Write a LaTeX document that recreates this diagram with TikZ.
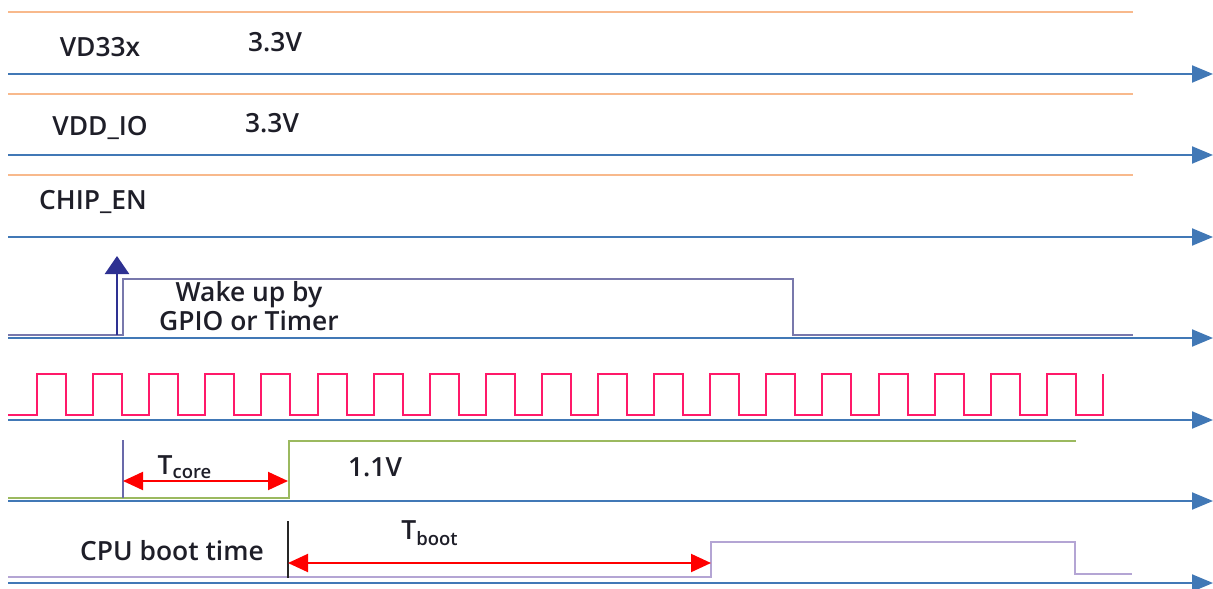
\documentclass[tikz,border=0pt]{standalone}
\usepackage{fontspec}
\setmainfont{Open Sans}[UprightFont=* Semibold]
\usetikzlibrary{arrows.meta,positioning,calc}
\definecolor{axisblue}{RGB}{65,120,182}
\definecolor{orangeln}{RGB}{248,185,140}
\definecolor{wakeln}{RGB}{120,120,172}
\definecolor{wakearr}{RGB}{46,49,146}
\definecolor{clkln}{RGB}{255,25,105}
\definecolor{coreln}{RGB}{155,185,95}
\definecolor{bootln}{RGB}{180,165,212}
\definecolor{markln}{RGB}{105,105,170}
\definecolor{txt}{RGB}{30,30,40}

\begin{document}
\begin{tikzpicture}[
  x=0.5pt, y=-0.5pt,
  font=\fontsize{13.2pt}{14.6pt}\selectfont,
  axis/.style={draw=axisblue, line width=1pt, -{Triangle[length=10.5pt,width=8.5pt]}},
  rail/.style={draw=orangeln, line width=0.8pt},
  sig/.style={line width=1pt},
  span/.style={draw=red, line width=1pt, {Triangle[length=10pt,width=9pt]}-{Triangle[length=10pt,width=9pt]}},
  lbl/.style={inner sep=0pt, align=center, text=txt}]
\useasboundingbox (0,0) rectangle (1213,588);

% time axes, one per signal
\foreach \y [count=\i] in {74,155,237,338,420,501,583} {
  \coordinate (ax\i) at (8,\y);
  \coordinate (tip\i) at (1213,\y);
  \draw[axis] (ax\i) -- (tip\i);
}
% supply rails
\foreach \y in {12,94,175}
  \draw[rail] (8,\y) -- (1133,\y);

% labels
\node[lbl] (vd33) at (100,47) {VD33x};
\node[lbl] (vd33v) at (275,42) {3.3V};
\node[lbl] (vddio) at (100,128) {VDD\_IO};
\node[lbl] (vddiov) at (272,123) {3.3V};
\node[lbl] (chipen) at (93,202) {CHIP\_EN};

% wake up pulse
\draw[sig, draw=wakeln] (8,335) -- (123,335) -- (123,279) -- (793,279)
  -- (793,335) -- (1133,335);
\coordinate (wk0) at (117,335);
\coordinate (wk1) at (117,256);
\draw[draw=wakearr, line width=1.2pt, -{Triangle[length=9pt,width=12pt]}] (wk0) -- (wk1);
\node[lbl] (wake) at (249,306) {Wake up by\\GPIO or Timer};

% clock
\draw[sig, draw=clkln] (8,415)
  foreach \k in {0,...,18} {
    -- ({37+56.1*\k},415) -- ({37+56.1*\k},374)
    -- ({66+56.1*\k},374) -- ({66+56.1*\k},415) }
  -- (1103,415) -- (1103,374);

% core supply
\draw[sig, draw=coreln] (8,498) -- (289,498) -- (289,441) -- (1076,441);
\coordinate (tc0) at (123,481);
\coordinate (tc1) at (288,481);
\draw[draw=markln, line width=0.9pt] (123,440) -- (123,498);
\draw[span] (tc0) -- (tc1);
\node[lbl] (tcore) at (185,467) {T\textsubscript{core}};
\node[lbl] (core11) at (375,467) {1.1V};

% cpu boot
\draw[sig, draw=bootln] (8,577) -- (711,577) -- (711,542) -- (1075,542)
  -- (1075,574) -- (1132,574);
\draw[draw=black!85, line width=0.9pt] (288,521) -- (288,578);
\coordinate (tb0) at (288,563);
\coordinate (tb1) at (711,563);
\draw[span] (tb0) -- (tb1);
\node[lbl] (tboot) at (430,533) {T\textsubscript{boot}};
\node[lbl] (cpuboot) at (172,551) {CPU boot time};
\end{tikzpicture}
\end{document}
